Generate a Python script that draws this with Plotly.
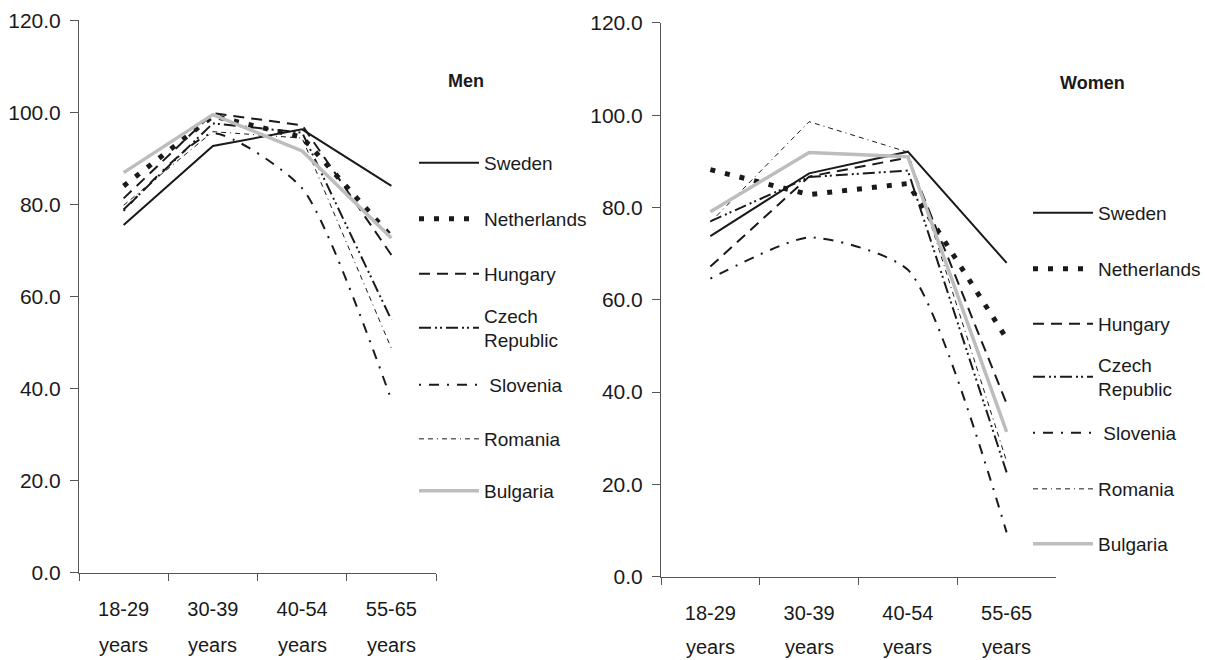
import plotly.graph_objects as go

# Age groups on the x axis
age_groups = ["18-29", "30-39", "40-54", "55-65"]
age_suffix = "years"
countries = ["Sweden", "Netherlands", "Hungary", "Czech Republic", "Slovenia", "Romania", "Bulgaria"]

# Employment-type rates by age group, men
men_sweden = [75.5, 92.7, 96.3, 84.0]
men_netherlands = [84.0, 99.2, 94.6, 73.0]
men_hungary = [81.3, 99.8, 97.2, 69.0]
men_czech = [78.9, 97.6, 95.6, 54.9]
men_slovenia = [78.6, 95.4, 83.5, 37.5]
men_romania = [79.8, 95.8, 94.4, 48.7]
men_bulgaria = [86.9, 99.5, 91.6, 72.7]

# Employment-type rates by age group, women
women_sweden = [73.8, 87.4, 92.1, 68.0]
women_netherlands = [88.2, 82.8, 85.2, 51.6]
women_hungary = [67.2, 86.7, 90.8, 37.5]
women_czech = [77.0, 86.6, 88.0, 22.6]
women_slovenia = [64.6, 73.5, 66.5, 9.6]
women_romania = [76.8, 98.6, 92.0, 25.0]
women_bulgaria = [79.1, 91.9, 91.0, 31.4]

men_values = [men_sweden, men_netherlands, men_hungary, men_czech,
              men_slovenia, men_romania, men_bulgaria]
women_values = [women_sweden, women_netherlands, women_hungary, women_czech,
                women_slovenia, women_romania, women_bulgaria]

legend_labels = ["Sweden", "Netherlands", "Hungary", "Czech<br>Republic",
                 " Slovenia", "Romania", "Bulgaria"]

INK = "#1a1a1a"
FONT = "Liberation Sans, Arial"
styles = {
    "Sweden": dict(color=INK, width=2, dash="solid"),
    "Netherlands": dict(color=INK, width=5, dash="5px,10px"),
    "Hungary": dict(color=INK, width=2, dash="11px,7px"),
    "Czech Republic": dict(color=INK, width=2, dash="12px,4px,2px,3px,2px,4px"),
    "Slovenia": dict(color=INK, width=2, dash="2px,8px,10px,8px"),
    "Romania": dict(color=INK, width=1, dash="5px,4px,5px,4px,1px,4px"),
    "Bulgaria": dict(color="#bdbdbd", width=3.5, dash="solid"),
}
shapes_by_country = {"Slovenia": "spline"}

W, H = 1205, 660

# plot areas in pixels
panels = {
    "men": dict(x0=79, x1=436, ytop=20.3, ybot=572.5, suffix_y=645),
    "women": dict(x0=661, x1=1056, ytop=22.9, ybot=576.7, suffix_y=647),
}
legend_rows = {
    "men": dict(x=414, ys=[163, 219, 274, 328, 385, 439, 491]),
    "women": dict(x=1028, ys=[213, 269, 324, 377, 433, 489, 544]),
}

fig = go.Figure()
layout_extra = {}
legend_index = 1

for panel, values, xa, ya in [("men", men_values, "x", "y"),
                              ("women", women_values, "x2", "y2")]:
    rows = legend_rows[panel]
    for i, (country, vals) in enumerate(zip(countries, values)):
        lname = "legend" if legend_index == 1 else f"legend{legend_index}"
        fig.add_trace(go.Scatter(
            x=age_groups, y=vals, mode="lines", name=legend_labels[i],
            line=dict(shape=shapes_by_country.get(country, "linear"),
                      smoothing=0.6, **styles[country]),
            xaxis=xa, yaxis=ya, legend=lname, showlegend=True,
            hoverinfo="skip",
        ))
        layout_extra[lname] = dict(
            x=rows["x"] / W, y=1 - rows["ys"][i] / H,
            xanchor="left", yanchor="middle",
            bgcolor="rgba(0,0,0,0)", borderwidth=0, itemwidth=60,
            font=dict(family=FONT, size=19, color=INK),
            valign="middle",
        )
        legend_index += 1

tick_font = dict(family=FONT, size=20, color=INK)

def xaxis_cfg(p):
    return dict(
        domain=[p["x0"] / W, p["x1"] / W], type="category",
        range=[-0.5, 3.5], tickson="boundaries", ticks="outside", ticklen=7,
        tickcolor="#555", showline=True, linecolor="#555", linewidth=1,
        showgrid=False, zeroline=False, tickfont=tick_font,
        ticklabelstandoff=18,
    )

def yaxis_cfg(p):
    return dict(
        domain=[1 - p["ybot"] / H, 1 - p["ytop"] / H], range=[0, 120],
        dtick=20, tickformat=".1f", ticks="outside", ticklen=8,
        tickcolor="#555", showline=True, linecolor="#555", linewidth=1,
        showgrid=False, zeroline=False,
        tickfont=dict(family=FONT, size=21, color=INK),
        ticklabelstandoff=5,
    )

annotations = [
    dict(text="<b>Men</b>", x=466 / W, y=1 - 81 / H, xref="paper", yref="paper",
         xanchor="center", yanchor="middle", showarrow=False,
         font=dict(family=FONT, size=18, color=INK)),
    dict(text="<b>Women</b>", x=1092 / W, y=1 - 83 / H, xref="paper", yref="paper",
         xanchor="center", yanchor="middle", showarrow=False,
         font=dict(family=FONT, size=18, color=INK)),
]
# second line of each category label
for panel, xref in [("men", "x"), ("women", "x2")]:
    for grp in age_groups:
        annotations.append(dict(
            text=age_suffix, x=grp, xref=xref, y=1 - panels[panel]["suffix_y"] / H,
            yref="paper", xanchor="center", yanchor="middle", showarrow=False,
            font=tick_font,
        ))

fig.update_layout(
    width=W, height=H,
    margin=dict(l=0, r=0, t=0, b=0, autoexpand=False),
    paper_bgcolor="white", plot_bgcolor="white",
    xaxis=dict(anchor="y", **xaxis_cfg(panels["men"])),
    yaxis=dict(anchor="x", **yaxis_cfg(panels["men"])),
    xaxis2=dict(anchor="y2", **xaxis_cfg(panels["women"])),
    yaxis2=dict(anchor="x2", **yaxis_cfg(panels["women"])),
    annotations=annotations,
    **layout_extra,
)

fig.write_html("out.html")
